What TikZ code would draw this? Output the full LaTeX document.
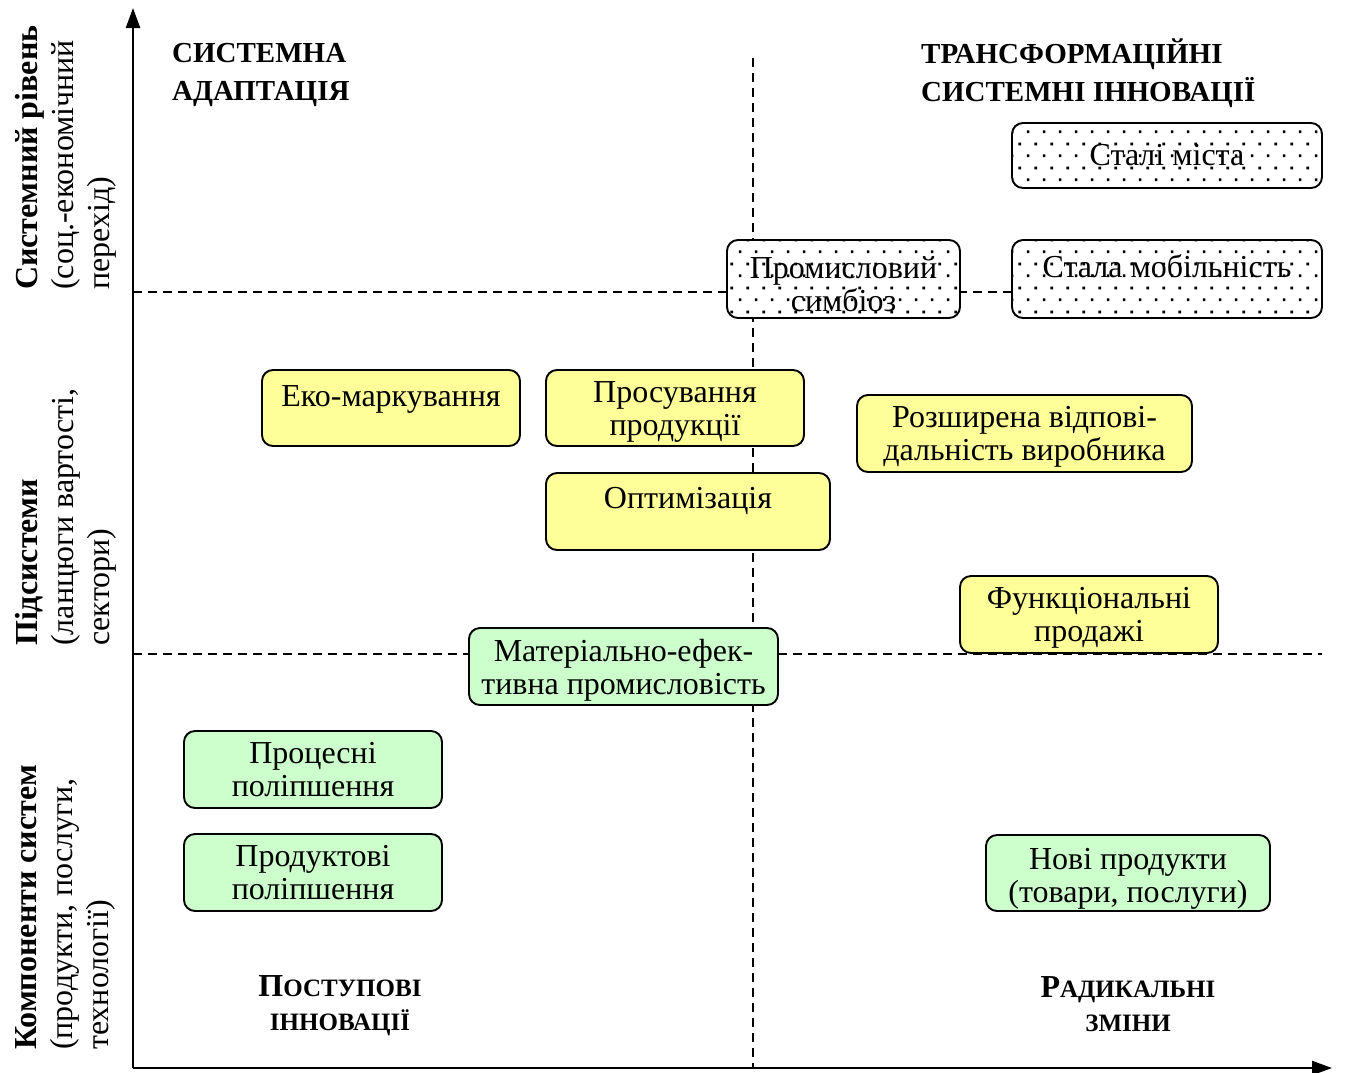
\documentclass[tikz,border=0pt]{standalone}
\usepackage{fontspec}
\setmainfont{Liberation Serif}
\usetikzlibrary{patterns.meta,arrows.meta}
\definecolor{ylw}{HTML}{FFFF99}
\definecolor{grn}{HTML}{CCFFCC}
\pgfdeclarepattern{name=sdots, type=uncolored,
  bottom left={\pgfpoint{0pt}{0pt}}, top right={\pgfpoint{16pt}{24pt}},
  tile size={\pgfpoint{16pt}{24pt}},
  code={\pgfpathrectangle{\pgfpoint{3pt}{3pt}}{\pgfpoint{2.8pt}{2.8pt}}
        \pgfpathrectangle{\pgfpoint{11pt}{15pt}}{\pgfpoint{2.8pt}{2.8pt}}
        \pgfusepath{fill}}}
\begin{document}
\begin{tikzpicture}[x=1pt,y=-1pt,
  bx/.style={draw, line width=1.9pt, rounded corners=11pt, inner sep=0pt},
  ybox/.style={bx, fill=ylw},
  gbox/.style={bx, fill=grn},
  dbox/.style={bx, preaction={fill=white}, pattern=sdots},
  btxt/.style={align=center, font=\fontsize{32}{33}\selectfont, inner sep=0pt},
  dsh/.style={line width=1.8pt, dash pattern=on 9pt off 6pt},
  ax/.style={line width=2.4pt, -{Triangle[length=20pt,width=14pt]}},
  hd/.style={font=\fontsize{29}{38}\selectfont\bfseries, align=left, inner sep=0pt},
  sc/.style={font=\fontsize{32}{34}\selectfont\bfseries, align=center, inner sep=0pt},
  lab/.style={font=\fontsize{32}{36}\selectfont, align=left, inner sep=0pt, rotate=90, anchor=north west}
]
\useasboundingbox (0,0) rectangle (1357,1072);

% axes
\coordinate (O) at (133,1068);
\coordinate (Ytop) at (133,8);
\coordinate (Xend) at (1332,1068);
\draw[ax] (O) -- (Ytop);
\draw[ax] (O) -- (Xend);

% dashed grid
\coordinate (V1) at (753,58);
\coordinate (V2) at (753,1068);
\coordinate (H1a) at (133,292);
\coordinate (H1b) at (1322,292);
\coordinate (H2a) at (133,654);
\coordinate (H2b) at (1322,654);
\draw[dsh] (V1) -- (V2);
\draw[dsh] (H1a) -- (H1b);
\draw[dsh] (H2a) -- (H2b);

% headings
\node[hd, anchor=north west] (tl) at (172,43) {СИСТЕМНА\\АДАПТАЦІЯ};
\node[hd, anchor=north west] (tr) at (921,39) {ТРАНСФОРМАЦІЙНІ\\СИСТЕМНІ ІННОВАЦІЇ};
\node[sc] (bl) at (340,1006)
  {П{\fontsize{25}{34}\selectfont ОСТУПОВІ}\\{\fontsize{25}{34}\selectfont ІННОВАЦІЇ}};
\node[sc] (br) at (1128,1004)
  {Р{\fontsize{25}{34}\selectfont АДИКАЛЬНІ}\\{\fontsize{25}{34}\selectfont ЗМІНИ}};

% left labels
\node[lab] (l1) at (15,290) {\textbf{Системний рівень}\\(соц.-економічний\\перехід)};
\node[lab] (l2) at (15,646) {\textbf{Підсистеми}\\(ланцюги вартості,\\сектори)};
\node[lab] (l3) at (15,1050) {\textbf{Компоненти систем}\\(продукти, послуги,\\технології)};

% dotted boxes
\node[dbox, minimum width=310, minimum height=65] (sm) at (1167,155.5) {};
\node[btxt] (smt) at (1167,155.5) {Сталі міста};
\node[dbox, minimum width=233, minimum height=78] (ps) at (843.5,279) {};
\node[btxt] (pst) at (843.5,284) {Промисловий\\симбіоз};
\node[dbox, minimum width=310, minimum height=78] (mob) at (1167,279) {};
\node[btxt] (mobt) at (1167,283) {Стала мобільність\\\mbox{}};

% yellow boxes
\node[ybox, minimum width=258, minimum height=76] (eko) at (391,408) {};
\node[btxt] (ekot) at (391,413) {Еко-маркування\\\mbox{}};
\node[ybox, minimum width=258, minimum height=76] (pros) at (675,408) {};
\node[btxt] (prost) at (675,412) {Просування\\продукції};
\node[ybox, minimum width=284, minimum height=77] (opt) at (688,511.5) {};
\node[btxt] (optt) at (688,514.5) {Оптимізація\\\mbox{}};
\node[ybox, minimum width=335, minimum height=77] (roz) at (1024.5,433.5) {};
\node[btxt] (rozt) at (1024.5,437) {Розширена відпові-\\дальність виробника};
\node[ybox, minimum width=258, minimum height=77] (fun) at (1089,614.5) {};
\node[btxt] (funt) at (1089,618) {Функціональні\\продажі};

% green boxes
\node[gbox, minimum width=309, minimum height=77] (mat) at (623.5,666.5) {};
\node[btxt] (matt) at (623.5,670) {Матеріально-ефек-\\тивна промисловість};
\node[gbox, minimum width=258, minimum height=77] (proc) at (313,769.5) {};
\node[btxt] (proct) at (313,769.5) {Процесні\\поліпшення};
\node[gbox, minimum width=258, minimum height=77] (prod) at (313,872.5) {};
\node[btxt] (prodt) at (313,872.5) {Продуктові\\поліпшення};
\node[gbox, minimum width=284, minimum height=76] (nov) at (1128,873) {};
\node[btxt] (novt) at (1128,879) {Нові продукти\\(товари, послуги)};
\end{tikzpicture}
\end{document}
